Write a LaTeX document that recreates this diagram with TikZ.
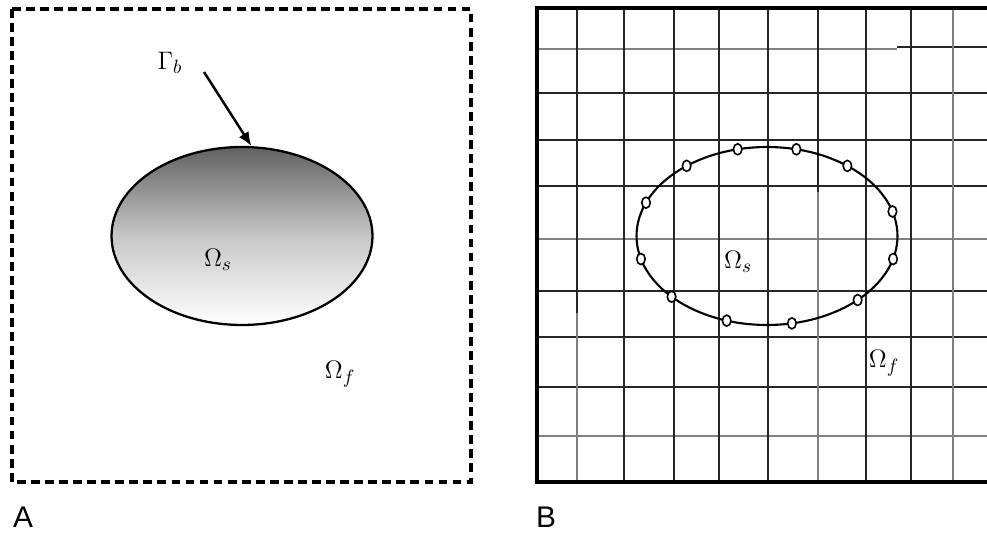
\documentclass[tikz,border=0pt]{standalone}
\usepackage{fontspec}
\newfontfamily\panelfont{Liberation Sans}
\usetikzlibrary{arrows.meta,shapes.geometric}

\begin{document}
\begin{tikzpicture}[x=0.02cm,y=-0.02cm,>={Latex[length=8pt,width=6.5pt]},
  griddark/.style={draw=black!85,line width=0.9pt},
  gridgrey/.style={draw=black!50,line width=0.9pt},
  body/.style={ellipse,draw,inner sep=0pt,minimum width=5.22cm,minimum height=3.56cm},
  marker/.style={ellipse,draw,fill=white,line width=0.9pt,inner sep=0pt,minimum width=0.17cm,minimum height=0.22cm},
  lbl/.style={inner sep=0pt,font=\fontsize{15}{17}\selectfont},
  panel/.style={inner sep=0pt,font=\panelfont\fontsize{17}{19}\selectfont}]
  \useasboundingbox (0,0) rectangle (987,533);

  % A
  \draw[line width=2pt,dash pattern=on 5pt off 3pt] (12,9) rectangle (471,482);
  \node[body,line width=1.3pt,top color=black!62,bottom color=white,middle color=black!22] (solidA) at (242,236) {};
  \coordinate (tailA) at (204,72);
  \draw[->,line width=1.4pt] (tailA) -- (solidA.84);
  \node[lbl] (gammab) at (170,63) {$\Gamma_b$};
  \node[lbl] (omegasA) at (218,260) {$\Omega_s$};
  \node[lbl] (omegafA) at (340,374) {$\Omega_f$};
  \node[panel] (labelA) at (23,517) {A};

  % B
  \foreach \gy in {93,140,186,291,337,387}
    \draw[griddark] (537,\gy) -- (987,\gy);
  \foreach \gy in {239,436}
    \draw[gridgrey] (537,\gy) -- (987,\gy);
  \draw[gridgrey] (537,49) -- (897,49);
  \draw[griddark] (897,47) -- (987,47);
  \foreach \gx in {624,674,719,768,866,911}
    \draw[griddark] (\gx,8) -- (\gx,482);
  \draw[griddark] (577,8) -- (577,313);
  \draw[gridgrey] (577,313) -- (577,482);
  \draw[griddark] (818,8) -- (818,192);
  \draw[gridgrey] (818,192) -- (818,482);
  \draw[gridgrey] (953,8) -- (953,482);
  \draw[line width=1.8pt] (987,8) -- (537,8) -- (537,482) -- (987,482);
  \node[body,line width=1.2pt] (solidB) at (767,236) {};
  \foreach \t in {16,52,77,103,128,158,195,223,252,281,314,345}
    \path (solidB.center) ++(-\t:130.5 and 89) node[marker] (mk\t) {};
  \node[lbl] (omegasB) at (738,262) {$\Omega_s$};
  \node[lbl] (omegafB) at (884,363) {$\Omega_f$};
  \node[panel] (labelB) at (546,517) {B};
\end{tikzpicture}
\end{document}
